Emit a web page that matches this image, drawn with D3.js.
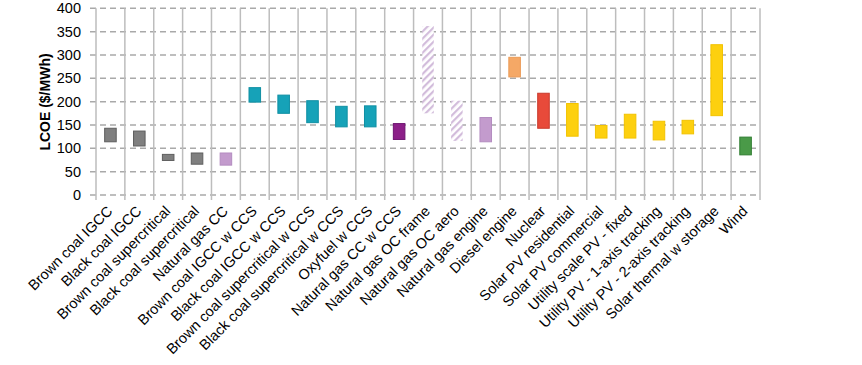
<!DOCTYPE html>
<html>
<head>
<meta charset="utf-8">
<script src="https://cdn.jsdelivr.net/npm/d3@7"></script>
<style>
  body { margin: 0; background: #fff; }
  text { font-family: "Liberation Sans", Arial, sans-serif; }
</style>
</head>
<body>
<div id="chart"></div>
<script>
// technologies, low and high LCOE ($/MWh), colour group
const technologies = ['Brown coal IGCC', 'Black coal IGCC', 'Brown coal supercritical', 'Black coal supercritical',
    'Natural gas CC', 'Brown coal IGCC w CCS', 'Black coal IGCC w CCS', 'Brown coal supercritical w CCS',
    'Black coal supercritical w CCS', 'Oxyfuel w CCS', 'Natural gas CC w CCS', 'Natural gas OC frame',
    'Natural gas OC aero', 'Natural gas engine', 'Diesel engine', 'Nuclear', 'Solar PV residential',
    'Solar PV commercial', 'Utility scale PV - fixed', 'Utility PV - 1-axis tracking',
    'Utility PV - 2-axis tracking', 'Solar thermal w storage', 'Wind']
const lowValues = [114, 105, 74, 66, 64, 199, 175, 155, 146, 146, 119, 175, 116, 114, 253, 143, 126, 122, 122, 118, 131, 170, 86]
const highValues = [143, 137, 87, 90, 90, 230, 214, 202, 190, 191, 153, 362, 202, 166, 295, 218, 196, 149, 173, 158, 160, 322, 124]
const groups = ['coal', 'coal', 'coal', 'coal', 'gas', 'ccs', 'ccs', 'ccs', 'ccs', 'ccs', 'gasccs', 'hatch',
    'hatch', 'gas', 'diesel', 'nuclear', 'solar', 'solar', 'solar', 'solar', 'solar', 'solar', 'wind']
const yTicks = [0, 50, 100, 150, 200, 250, 300, 350, 400]

const fills = { coal: '#7f7f7f', gas: '#c39bcd', ccs: '#16a2b8', gasccs: '#8c1f88', hatch: 'url(#hatch)',
    diesel: '#f5a866', nuclear: '#e84a3a', solar: '#fdd00f', wind: '#4a9a48' }
const strokes = { coal: '#5e5e5e', gas: '#b48cc0', ccs: '#0f8fa3', gasccs: '#6e1470', hatch: 'none',
    diesel: '#eb9a55', nuclear: '#c93a2c', solar: '#f2c200', wind: '#2f7d30' }

let svg = d3.select('#chart').append('svg')
    .attr('width', 862)
    .attr('height', 365)

let defs = svg.append('defs')
let pattern = defs.append('pattern')
    .attr('id', 'hatch')
    .attr('patternUnits', 'userSpaceOnUse')
    .attr('width', 5)
    .attr('height', 5)
    .attr('patternTransform', 'rotate(45)')
pattern.append('rect').attr('width', 5).attr('height', 5).attr('fill', '#fff')
pattern.append('rect').attr('width', 2.2).attr('height', 5).attr('fill', '#d2bcdb')

let x = d3.scaleBand()
    .domain(technologies)
    .range([96, 760])

let y = d3.scaleLinear()
    .domain([0, 400])
    .range([195, 8.3])

// horizontal dashed gridlines
svg.append('g')
    .selectAll('line')
    .data(yTicks)
    .join('line')
    .attr('x1', 90)
    .attr('x2', 760)
    .attr('y1', d => y(d))
    .attr('y2', d => y(d))
    .style('stroke', '#a9a9a9')
    .style('stroke-width', 1.5)
    .style('stroke-dasharray', '6,4')

// vertical category separators
let bounds = technologies.map(t => x(t)).concat([x.range()[1]])
svg.append('g')
    .selectAll('line')
    .data(bounds)
    .join('line')
    .attr('x1', d => d)
    .attr('x2', d => d)
    .attr('y1', y(400))
    .attr('y2', y(0) + 5)
    .style('stroke', '#bdbdbd')
    .style('stroke-width', 1.5)

// y tick labels
svg.append('g')
    .selectAll('text')
    .data(yTicks)
    .join('text')
    .attr('x', 81)
    .attr('y', d => y(d) + 5)
    .attr('text-anchor', 'end')
    .style('font-size', '14.5px')
    .style('fill', '#000')
    .text(d => d)

svg.append('text')
    .attr('transform', 'translate (50, 102) rotate(-90)')
    .attr('text-anchor', 'middle')
    .style('font-size', '14px')
    .style('font-weight', 'bold')
    .text('LCOE ($/MWh)')

// range bars
let bw = x.bandwidth() * 0.4
svg.append('g')
    .selectAll('rect')
    .data(technologies)
    .join('rect')
    .attr('x', d => x(d) + (x.bandwidth() - bw) / 2)
    .attr('y', (d, i) => y(highValues[i]))
    .attr('width', bw)
    .attr('height', (d, i) => y(lowValues[i]) - y(highValues[i]))
    .attr('fill', (d, i) => fills[groups[i]])
    .style('stroke', (d, i) => strokes[groups[i]])
    .style('stroke-width', 1)

// category labels
svg.append('g')
    .selectAll('text')
    .data(technologies)
    .join('text')
    .attr('transform', d => 'translate (' + (x(d) + x.bandwidth() / 2 + 3) + ', 212) rotate(-45)')
    .attr('text-anchor', 'end')
    .style('font-size', '14.5px')
    .style('fill', '#000')
    .text(d => d)
</script>
</body>
</html>
